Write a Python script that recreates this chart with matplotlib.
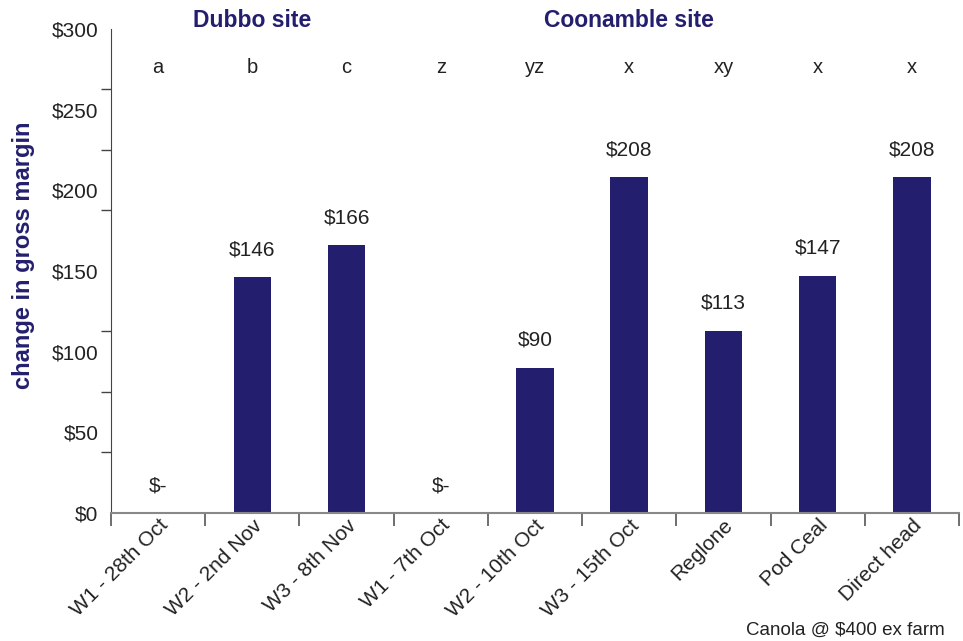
import numpy as np
import matplotlib
matplotlib.use('Agg')
import matplotlib.pyplot as plt

# data
categories = ['W1 - 28th Oct', 'W2 - 2nd Nov', 'W3 - 8th Nov',
              'W1 - 7th Oct', 'W2 - 10th Oct', 'W3 - 15th Oct',
              'Reglone', 'Pod Ceal', 'Direct head']
values = [0, 146, 166, 0, 90, 208, 113, 147, 208]
value_labels = ['$-', '$146', '$166', '$-', '$90', '$208', '$113', '$147', '$208']
letters = ['a', 'b', 'c', 'z', 'yz', 'x', 'xy', 'x', 'x']
sites = ['Dubbo site', 'Coonamble site']
site_centres = [1, 5]  # category index under each site title

navy = '#231f6e'
plt.rcParams['font.family'] = ['Liberation Sans', 'DejaVu Sans']

fig = plt.figure(figsize=(9.63, 6.41), dpi=100)
ax = fig.add_axes([0.1153, 0.1997, 0.8805, 0.7551])

x = np.arange(len(categories))
ax.bar(x, values, width=0.4, color=navy, zorder=2)

for xi, v, lab, let in zip(x, values, value_labels, letters):
    ax.text(xi, v + 17, lab, ha='center', va='center', fontsize=15, color='#222222')
    ax.text(xi, 276, let, ha='center', va='center', fontsize=14.5, color='#222222')

for name, c in zip(sites, site_centres):
    ax.text(c, 305, name, ha='center', va='center', fontsize=16.5,
            fontweight='bold', color=navy, clip_on=False)

ax.set_xlim(-0.5, len(categories) - 0.5)
ax.set_ylim(0, 300)

# y labels every $50, tick marks every 37.5
ax.set_yticks(np.arange(0, 301, 50))
ax.set_yticklabels(['$%d' % v for v in range(0, 301, 50)], fontsize=15, color='#222222')
ax.tick_params(axis='y', which='major', length=0, pad=9)
ax.set_yticks(np.arange(0, 301, 37.5), minor=True)
ax.tick_params(axis='y', which='minor', length=7, width=1, color='#444444')

# x: separators between categories, labels at centres
ax.set_xticks(np.arange(-0.5, len(categories), 1), minor=True)
ax.tick_params(axis='x', which='minor', length=9, width=1.2, color='#555555')
ax.set_xticks(x)
ax.set_xticklabels(categories, rotation=45, ha='right', rotation_mode='anchor',
                   fontsize=15, color='#222222')
ax.tick_params(axis='x', which='major', length=0, pad=2)

ax.set_ylabel('change in gross margin', fontsize=17, fontweight='bold', color=navy)
ax.yaxis.set_label_coords(-0.090, 0.533)

for side in ['top', 'right']:
    ax.spines[side].set_visible(False)
ax.spines['left'].set_color('#444444')
ax.spines['bottom'].set_color('#888888')
ax.spines['bottom'].set_linewidth(1.5)

fig.text(0.981, 0.004, 'Canola @ $400 ex farm', ha='right', va='bottom',
         fontsize=13.5, color='#222222')

fig.savefig('out.png', dpi=100)
plt.close()
